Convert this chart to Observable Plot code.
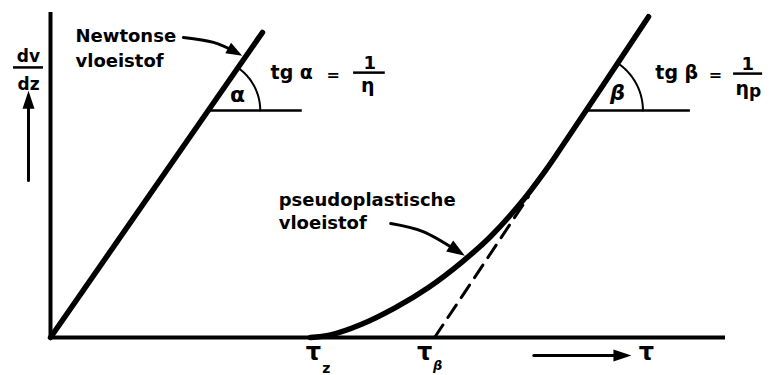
<!DOCTYPE html>
<html>
<head>
<meta charset="utf-8">
<script src="https://cdn.jsdelivr.net/npm/d3@7"></script>
<script src="https://cdn.jsdelivr.net/npm/@observablehq/plot@0.6"></script>
<style>
  body { margin: 0; background: #fff; }
</style>
</head>
<body>
<div id="chart"></div>
<script>
// Flow curves: shear rate dv/dz against shear stress τ (arbitrary units 0–100)

// Newtonian fluid: straight line through the origin, slope 1/η
const newtonTau = [0, 31.4];
const newtonRate = [0, 93.85];

// Pseudoplastic fluid: starts at the yield stress τz, bends up into a straight line of slope 1/ηp
const pseudoTau = [38.5, 41.5, 45.9, 51.1, 56.0, 61.0, 65.2, 69.6, 73.3, 75.4, 88.6];
const pseudoRate = [0, 0.8, 3.9, 9.2, 15.4, 23.3, 31.1, 41.2, 51.3, 57.6, 98.7];

const tauZ = 38.5;     // yield stress τz
const tauBeta = 56.9;  // where the extended straight part meets the τ axis
const slopeP = 3.115;  // 1/ηp
const tangentEnd = 70.8;

// Height of the horizontal reference lines for the angles α and β
const refRate = 69.85;

const labels = {
  newton: "Newtonse\nvloeistof",
  pseudo: "pseudoplastische\nvloeistof",
  tgA: "tg α", tgB: "tg β", eq: "=", one: "1", eta: "η", p: "p",
  alpha: "α", beta: "β", tau: "τ", z: "z", dv: "dv", dz: "dz"
};

const W = 773, H = 375;
const mL = 50, mR = 48, mT = 12, mB = 38;
const kx = (W - mL - mR) / 100; // pixels per τ unit
const ky = (H - mT - mB) / 100; // pixels per dv/dz unit

const newton = newtonTau.map((t, i) => ({tau: t, rate: newtonRate[i]}));
const pseudo = pseudoTau.map((t, i) => ({tau: t, rate: pseudoRate[i]}));
const tangent = [tauBeta, tangentEnd].map(t => ({tau: t, rate: slopeP * (t - tauBeta)}));

// Screen angle of a line with the given data slope
const screenAngle = (slope) => Math.atan2(slope * ky, kx) * 180 / Math.PI;

// Circular arc (radius in pixels) around a point given in data units
function arc(tc, vc, r, deg) {
  return d3.range(0, deg + 0.5, 1).map(a => {
    const t = Math.min(a, deg) * Math.PI / 180;
    return {tau: tc + r * Math.cos(t) / kx, rate: vc + r * Math.sin(t) / ky};
  });
}

const slopeN = newtonRate[1] / newtonTau[1];
const alphaC = refRate / slopeN;
const betaC = tauBeta + refRate / slopeP;
const alphaArc = arc(alphaC, refRate, 52, screenAngle(slopeN));
const betaArc = arc(betaC, refRate, 57, screenAngle(slopeP));

// Filled triangular arrowhead
function head(len, half) {
  return (color) => {
    const m = d3.create("svg:marker")
      .attr("viewBox", `0 ${-half} ${len} ${2 * half}`)
      .attr("markerWidth", len).attr("markerHeight", 2 * half)
      .attr("refX", len * 0.45).attr("refY", 0)
      .attr("orient", "auto").attr("markerUnits", "userSpaceOnUse")
      .attr("overflow", "visible");
    m.append("path").attr("d", `M0,${-half}L${len},0L0,${half}Z`)
      .attr("fill", color === "currentColor" ? "black" : color).attr("stroke", "none");
    return m.node();
  };
}

const pts = (arr) => arr.map(([tau, rate]) => ({tau, rate}));
const newtonArrow = pts([[19.7, 92.3], [24.15, 90.8], [27.26, 88.0]]);
const pseudoArrow = pts([[50.4, 35.1], [55.2, 32.6], [60.15, 26.8]]);
const rateArrow = pts([[-3.26, 48.3], [-3.26, 72.9]]);
const tauArrow = pts([[71.6, -5.5], [84.6, -5.5]]);

const bold = {fontWeight: "bold", fill: "black", stroke: "none"};

const chart = Plot.plot({
  width: W, height: H,
  marginLeft: mL, marginRight: mR, marginTop: mT, marginBottom: mB,
  x: {domain: [0, 100], axis: null},
  y: {domain: [0, 100], axis: null},
  style: {fontFamily: "DejaVu Sans, sans-serif", background: "#fff", overflow: "visible"},
  marks: [
    // axes
    Plot.ruleY([0], {x1: 0, x2: 100, strokeWidth: 4}),
    Plot.ruleX([0], {y1: 0, y2: 100, strokeWidth: 4}),

    // flow curves
    Plot.line(newton, {x: "tau", y: "rate", strokeWidth: 5.5}),
    Plot.line(pseudo, {x: "tau", y: "rate", curve: "catmull-rom", strokeWidth: 5.5}),
    Plot.line(tangent, {x: "tau", y: "rate", strokeWidth: 3, strokeDasharray: "15,9"}),

    // angle α
    Plot.ruleY([refRate], {x1: alphaC, x2: 37.3, strokeWidth: 2.5}),
    Plot.line(alphaArc, {x: "tau", y: "rate", strokeWidth: 2}),
    Plot.text([labels.alpha], {x: 27.7, y: 74.5, fontSize: 22, ...bold}),

    // angle β
    Plot.ruleY([refRate], {x1: betaC, x2: 94.8, strokeWidth: 2.5}),
    Plot.line(betaArc, {x: "tau", y: "rate", strokeWidth: 2}),
    Plot.text([labels.beta], {x: 84.0, y: 75.1, fontSize: 21, fontStyle: "italic", ...bold}),

    // tg α = 1/η
    Plot.text([labels.tgA], {x: 32.6, y: 81.4, textAnchor: "start", fontSize: 19, ...bold}),
    Plot.text([labels.eq], {x: 41.9, y: 80.8, fontSize: 16, ...bold}),
    Plot.text([labels.one], {x: 47.3, y: 84.4, fontSize: 18, ...bold}),
    Plot.ruleY([81.5], {x1: 44.9, x2: 49.6, strokeWidth: 2.5}),
    Plot.text([labels.eta], {x: 47.0, y: 77.5, fontSize: 19, ...bold}),

    // tg β = 1/ηp
    Plot.text([labels.tgB], {x: 89.6, y: 81.4, textAnchor: "start", fontSize: 19, ...bold}),
    Plot.text([labels.eq], {x: 98.5, y: 80.8, fontSize: 16, ...bold}),
    Plot.text([labels.one], {x: 103.3, y: 84.2, fontSize: 18, ...bold}),
    Plot.ruleY([81.2], {x1: 101.2, x2: 105.5, strokeWidth: 2.5}),
    Plot.text([labels.eta], {x: 102.5, y: 76.6, fontSize: 19, ...bold}),
    Plot.text([labels.p], {x: 104.4, y: 75.6, fontSize: 17, ...bold}),

    // dv/dz
    Plot.text([labels.dv], {x: -3.26, y: 86.3, fontSize: 17, ...bold}),
    Plot.ruleY([83.1], {x1: -5.48, x2: -1.04, strokeWidth: 2.5}),
    Plot.text([labels.dz], {x: -3.26, y: 77.7, fontSize: 17, ...bold}),
    Plot.line(rateArrow, {x: "tau", y: "rate", strokeWidth: 3, markerEnd: head(18, 6)}),

    // τ axis labels
    Plot.text([labels.tau], {x: tauZ, dx: 3, y: -4.7, fontSize: 24, ...bold}),
    Plot.text([labels.z], {x: tauZ, dx: 16, y: -9.4, fontSize: 14, ...bold}),
    Plot.text([labels.tau], {x: tauBeta, dx: -10, y: -4.7, fontSize: 24, ...bold}),
    Plot.text([labels.beta], {x: tauBeta, dx: 3, y: -8.6, fontSize: 13, fontStyle: "italic", ...bold}),
    Plot.line(tauArrow, {x: "tau", y: "rate", strokeWidth: 3, markerEnd: head(18, 6)}),
    Plot.text([labels.tau], {x: 88.3, y: -4.7, fontSize: 24, ...bold}),

    // curve names with pointers
    Plot.text([labels.newton], {x: 3.7, y: 96.25, textAnchor: "start", lineAnchor: "top", lineHeight: 1.39, fontSize: 18, ...bold}),
    Plot.line(newtonArrow, {x: "tau", y: "rate", curve: "natural", strokeWidth: 3, markerEnd: head(16, 6)}),
    Plot.text([labels.pseudo], {x: 33.8, y: 45.6, textAnchor: "start", lineAnchor: "top", lineHeight: 1.28, fontSize: 18, ...bold}),
    Plot.line(pseudoArrow, {x: "tau", y: "rate", curve: "natural", strokeWidth: 3, markerEnd: head(18, 6.5)})
  ]
});

document.getElementById("chart").append(chart);
</script>
</body>
</html>
